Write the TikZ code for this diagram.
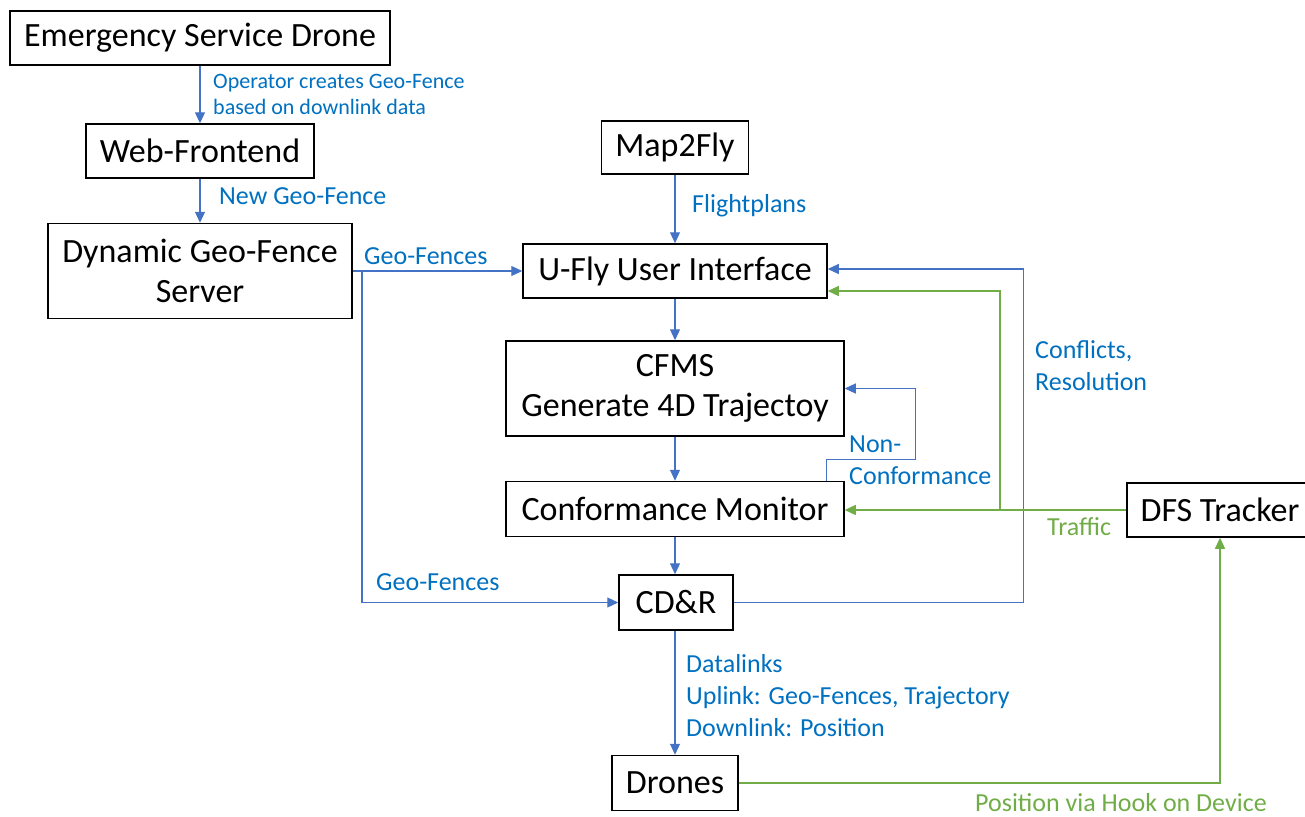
\documentclass[tikz,border=0pt]{standalone}
\usepackage{fontspec}
\setmainfont{Carlito}
\usetikzlibrary{arrows.meta}
\definecolor{lblue}{HTML}{4472C4}
\definecolor{tblue}{HTML}{0070C0}
\definecolor{lgreen}{HTML}{70AD47}
\begin{document}
\begin{tikzpicture}[x=1pt,y=-1pt,
  box/.style={draw=black, line width=1.5pt, inner sep=0pt, align=center,
    font=\fontsize{34}{40}\selectfont, text=black},
  bl/.style={draw=lblue, line width=1.1pt, -{Triangle[length=11pt,width=10pt]}},
  gr/.style={draw=lgreen, line width=1.1pt, -{Triangle[length=11pt,width=10pt]}},
  lbl/.style={text=tblue, font=\fontsize{26}{32}\selectfont, align=left, inner sep=0pt, anchor=west},
  glbl/.style={lbl, text=lgreen}]
\useasboundingbox (0,0) rectangle (1305,816);
% boxes
\node[box, minimum width=380pt, minimum height=54pt] (esd) at (200,38) {Emergency Service Drone};
\node[box, minimum width=228pt, minimum height=54pt] (wf) at (200,151) {Web-Frontend};
\node[box, minimum width=304pt, minimum height=95pt] (dgfs) at (200,271) {Dynamic Geo-Fence\\Server};
\node[box, minimum width=147pt, minimum height=53pt] (map) at (675,147.5) {Map2Fly};
\node[box, minimum width=304pt, minimum height=54pt] (ufly) at (675,271) {U-Fly User Interface};
\node[box, minimum width=338pt, minimum height=95pt] (cfms) at (675,388.5) {CFMS\\Generate 4D Trajectoy};
\node[box, minimum width=338pt, minimum height=55pt] (cm) at (675,509) {Conformance Monitor};
\node[box, minimum width=114pt, minimum height=55pt] (cdr) at (676,602.5) {CD\&R};
\node[box, minimum width=126pt, minimum height=55pt] (dr) at (675,783) {Drones};
\node[box, minimum width=186pt, minimum height=54pt] (dfs) at (1220,510) {DFS Tracker};
% connectors
\draw[bl] (esd) -- (wf);
\draw[bl] (wf) -- (dgfs);
\draw[bl] (dgfs.east) -- (ufly.west);
\coordinate (br) at (362,271);
\draw[bl] (br) |- (cdr.west);
\draw[bl] (map) -- (ufly);
\draw[bl] (ufly) -- (cfms);
\draw[bl] (cfms) -- (cm);
\draw[bl] (cm.south) -- (cm.south |- cdr.north);
\draw[bl] (cdr.south -| dr.north) -- (dr.north);
\draw[bl] (cdr.east) -- ++(290,0) |- ([yshift=2pt]ufly.east);
\draw[bl] ([xshift=-18pt]cm.north east) -- ++(0,-21) -- ++(89,0) |- (cfms.east);
\draw[gr] (dfs.west) -- (dfs.west -| cm.east);
\coordinate (gb) at (1000,509);
\draw[gr] (gb) |- ([yshift=-20pt]ufly.east);
\draw[gr] (dr.east) -| (dfs.south);
% labels
\node[lbl, font=\fontsize{22}{26}\selectfont] (l1) at (213,94) {Operator creates Geo-Fence\\based on downlink data};
\node[lbl] (l2) at (219,196) {New Geo-Fence};
\node[lbl] (l3) at (364,256) {Geo-Fences};
\node[lbl] (l4) at (692,206) {Flightplans};
\node[lbl] (l5) at (376,582) {Geo-Fences};
\node[lbl] (l6) at (1035,365.5) {Conflicts,\\Resolution};
\node[lbl] (l7) at (849,460) {Non-\\Conformance};
\node[glbl] (l8) at (1047,527) {Traffic};
\node[lbl] (l9) at (686,696) {Datalinks\\Uplink: Geo-Fences, Trajectory\\Downlink: Position};
\node[glbl] (l10) at (975,803) {Position via Hook on Device};
\end{tikzpicture}
\end{document}
